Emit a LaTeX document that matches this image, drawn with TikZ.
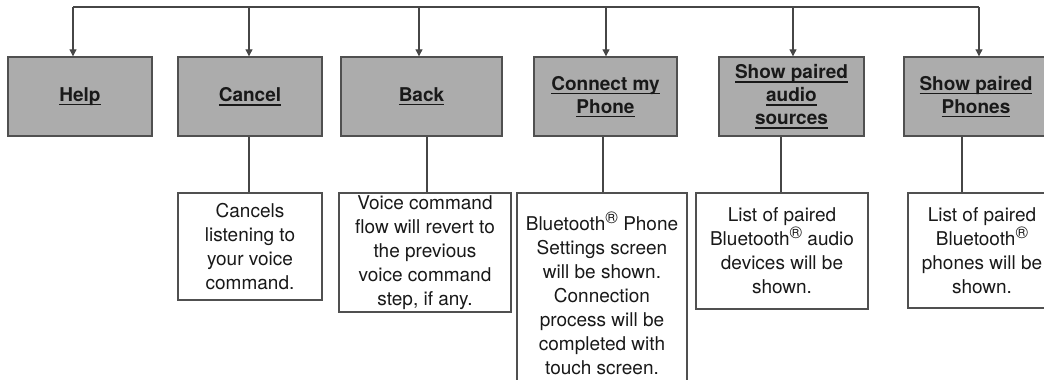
\documentclass[tikz,border=0pt]{standalone}
\usepackage{fontspec}
\setmainfont{TeX Gyre Heros}
\usetikzlibrary{arrows.meta}
\definecolor{boxgray}{RGB}{172,172,172}
\definecolor{edge}{RGB}{80,80,80}
\definecolor{wire}{RGB}{70,70,70}
\definecolor{ink}{RGB}{25,25,25}
\newsavebox\myulbox
\newcommand\myul[1]{\sbox\myulbox{#1}\rlap{\rule[-4pt]{\wd\myulbox}{1.5pt}}\usebox\myulbox}
\newcommand\reg{\raisebox{0.36em}{\fontsize{17}{17}\selectfont ®}}
\tikzset{
  cmd/.style={draw=edge, line width=1.4pt, fill=boxgray, inner sep=0pt, align=center,
    text=ink, font=\fontsize{19}{23}\selectfont\bfseries},
  desc/.style={draw=edge, line width=1.1pt, fill=white, inner sep=0pt, align=center,
    text=ink, font=\fontsize{19}{24}\selectfont},
  link/.style={draw=wire, line width=1.1pt},
  arr/.style={link, -{Triangle[length=7pt,width=7pt]}}
}
\begin{document}
\begin{tikzpicture}[x=1pt,y=-1pt]
\useasboundingbox (0,0) rectangle (1044,380);
\clip (0,0) rectangle (1044,380);
\fill[white] (0,0) rectangle (1044,380);

% command boxes
\node[cmd, minimum width=144pt, minimum height=79pt] (help)    at (80,96.5)   {\myul{Help}};
\node[cmd, minimum width=144pt, minimum height=79pt] (cancel)  at (250,96.5)  {\myul{Cancel}};
\node[cmd, minimum width=161pt, minimum height=79pt] (back)    at (421.5,96.5){\myul{Back}};
\node[cmd, minimum width=143pt, minimum height=79pt] (connect) at (605.5,96.5){\myul{Connect my}\\\myul{Phone}};
\node[cmd, minimum width=145pt, minimum height=79pt] (audio)   at (791.5,96.5){\myul{Show paired}\\\myul{audio}\\\myul{sources}};
\node[cmd, minimum width=144pt, minimum height=79pt] (phones)  at (976,96.5)  {\myul{Show paired}\\\myul{Phones}};

% description boxes
\node[desc, minimum width=144pt, minimum height=107pt] (cdesc) at (250,246.5)
  {Cancels\\listening to\\your voice\\command.};
\node[desc, minimum width=172pt, minimum height=119pt] (bdesc) at (425,252.5)
  {Voice command\\flow will revert to\\the previous\\voice command\\step, if any.};
\node[desc, minimum width=170pt, minimum height=200pt] (kdesc) at (602,293)
  {Bluetooth\reg{} Phone\\Settings screen\\will be shown.\\Connection\\process will be\\completed with\\touch screen.};
\node[desc, minimum width=172pt, minimum height=116pt] (adesc) at (782,251)
  {List of paired\\Bluetooth\reg{} audio\\devices will be\\shown.};
\node[desc, minimum width=148pt, minimum height=115pt] (pdesc) at (982,250.5)
  {List of paired\\Bluetooth\reg\\phones will be\\shown.};

% top bus
\coordinate (b1) at (73,7);
\coordinate (b2) at (249,7);
\coordinate (b3) at (419,7);
\coordinate (b4) at (606,7);
\coordinate (b5) at (793,7);
\coordinate (b6) at (979,7);
\draw[link] (b1) -- (b6);
\draw[arr] (b1) -- (b1 |- help.north);
\draw[arr] (b2) -- (b2 |- cancel.north);
\draw[arr] (b3) -- (b3 |- back.north);
\draw[arr] (b4) -- (b4 |- connect.north);
\draw[arr] (b5) -- (b5 |- audio.north);
\draw[arr] (b6) -- (b6 |- phones.north);

% drops to descriptions
\draw[link] ([xshift=-1pt]cdesc.north) -- ([xshift=-1pt]cdesc.north |- cancel.south);
\draw[link] ([xshift=2pt]bdesc.north) -- ([xshift=2pt]bdesc.north |- back.south);
\draw[link] ([xshift=1pt]kdesc.north) -- ([xshift=1pt]kdesc.north |- connect.south);
\draw[link] ([xshift=-1pt]adesc.north) -- ([xshift=-1pt]adesc.north |- audio.south);
\draw[link] ([xshift=-20pt]pdesc.north) -- ([xshift=-20pt]pdesc.north |- phones.south);
\end{tikzpicture}
\end{document}
